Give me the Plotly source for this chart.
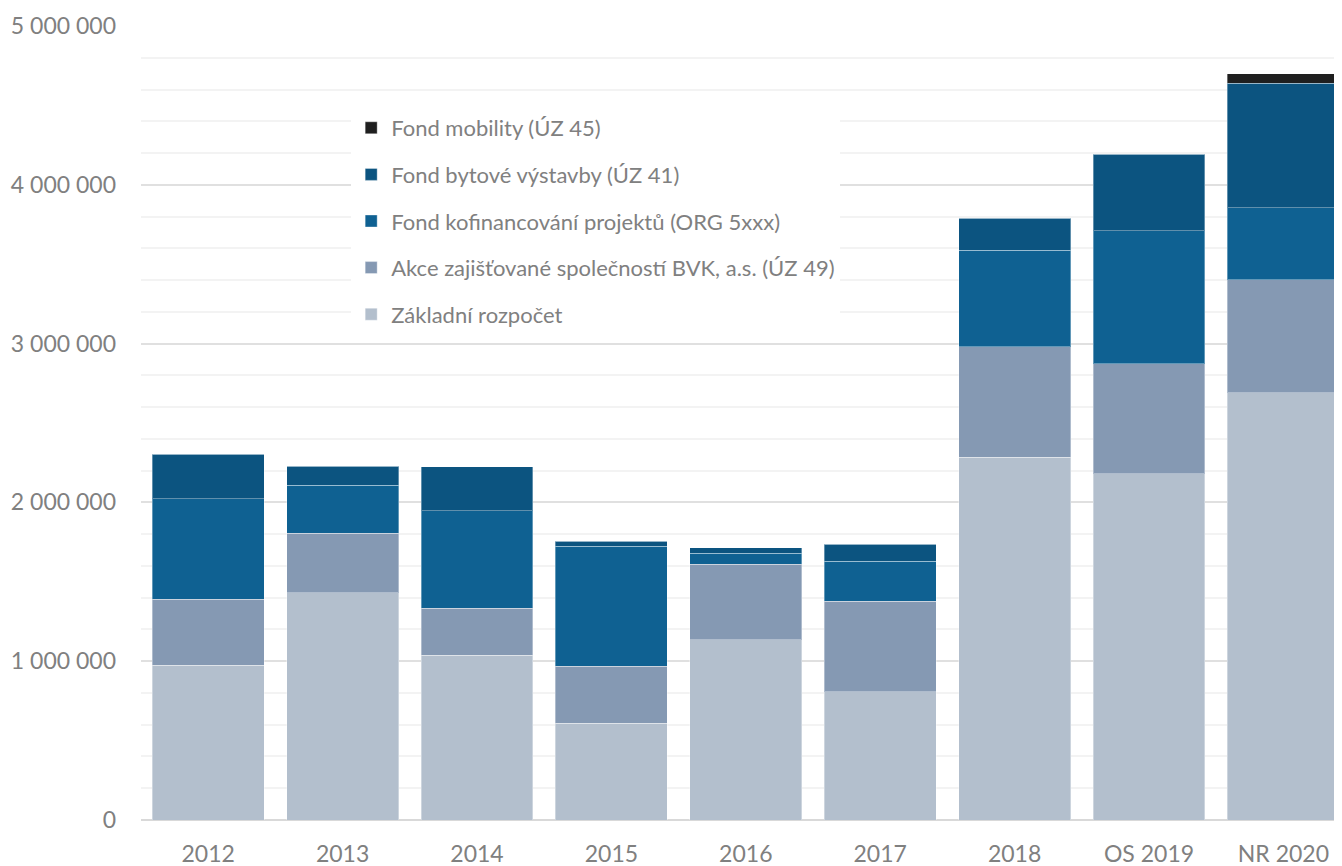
import plotly.graph_objects as go

# Years / budget versions on the x axis
categories = ['2012', '2013', '2014', '2015', '2016', '2017', '2018', 'OS 2019', 'NR 2020']

# Values (CZK thousands)
zakladni = [975000, 1432000, 1038000, 610000, 1134000, 809000, 2285000, 2182000, 2692000]
bvk = [415000, 373000, 297000, 359000, 478000, 568000, 696000, 690000, 711000]
kofinancovani = [632000, 302000, 613000, 756000, 69000, 252000, 608000, 839000, 452000]
bytove = [280000, 121000, 278000, 30000, 34000, 107000, 199000, 482000, 785000]
mobility = [0, 0, 0, 0, 0, 0, 0, 0, 60000]

series = [
    ('Základní rozpočet', zakladni, '#b3bfcd'),
    ('Akce zajišťované společností BVK, a.s. (ÚZ 49)', bvk, '#8599b3'),
    ('Fond kofinancování projektů (ORG 5xxx)', kofinancovani, '#0f6192'),
    ('Fond bytové výstavby (ÚZ 41)', bytove, '#0c5480'),
    ('Fond mobility (ÚZ 45)', mobility, '#1f1f1f'),
]

fig = go.Figure()
for i, (name, vals, color) in enumerate(series):
    fig.add_trace(go.Bar(
        x=categories, y=vals, name=name, legendgroup=str(i), legendrank=100 - i,
        marker=dict(color=color, line=dict(color='rgba(255,255,255,0.35)', width=1)),
    ))

# page body has an 8px margin, so the figure is sized/offset to compensate
fig.update_layout(
    barmode='stack',
    bargap=0.167,
    width=1334, height=858,
    margin=dict(l=133, r=0, t=18, b=46),
    plot_bgcolor='white', paper_bgcolor='white',
    separators='. ',
    font=dict(family='Lato', color='#808080', size=23),
    legend=dict(
        x=0.175, y=0.898, xanchor='left', yanchor='top',
        bgcolor='white', traceorder='grouped', tracegroupgap=15,
        font=dict(size=22, color='#808080'),
    ),
)
fig.update_xaxes(range=[-0.5, 8.436], showgrid=False, ticks='', ticklabelstandoff=18,
                 showline=False, automargin=False)
fig.update_yaxes(range=[0, 5000000], tickvals=[0, 1000000, 2000000, 3000000, 4000000, 5000000],
                 tickformat=',d', showgrid=True, gridcolor='#e0e0e0', gridwidth=2,
                 minor=dict(dtick=200000, showgrid=True, gridcolor='#f3f3f3', gridwidth=2),
                 zeroline=True, zerolinecolor='#d9d9d9', zerolinewidth=2,
                 ticklabelstandoff=24, automargin=False)

fig.write_html('out.html')
